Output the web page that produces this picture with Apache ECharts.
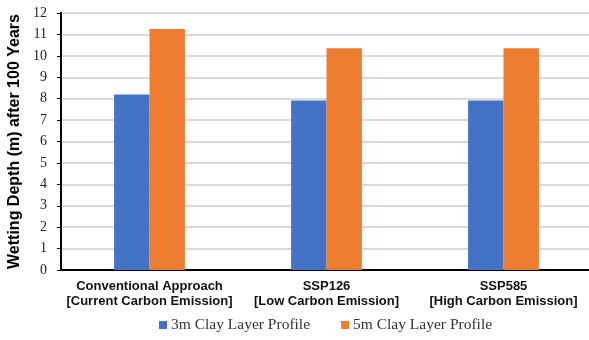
<!DOCTYPE html>
<html>
<head>
<meta charset="utf-8">
<script src="https://cdn.jsdelivr.net/npm/echarts@6/dist/echarts.min.js"></script>
<style>
  html, body { margin: 0; padding: 0; background: #fff; }
  #chart { width: 589px; height: 340px; }
</style>
</head>
<body>
<div id="chart"></div>
<script>
// Scenario categories (two-line labels)
const categories = [
  'Conventional Approach\n[Current Carbon Emission]',
  'SSP126\n[Low Carbon Emission]',
  'SSP585\n[High Carbon Emission]'
];
// Wetting depth (m) after 100 years for each clay layer profile
const clay3m = [8.2, 7.92, 7.92];
const clay5m = [11.25, 10.35, 10.35];
const seriesNames = ['3m Clay Layer Profile', '5m Clay Layer Profile'];
const yTicks = { min: 0, max: 12, interval: 1 };

const chart = echarts.init(document.getElementById('chart'));
chart.setOption({
  animation: false,
  backgroundColor: '#fff',
  grid: {
    left: 61, top: 13, bottom: 70, width: 531,
    outerBoundsMode: 'none',
    containLabel: false,
    show: true, borderColor: '#000', borderWidth: 2, backgroundColor: 'transparent'
  },
  legend: {
    top: 317,
    left: 159,
    padding: 0,
    itemWidth: 8, itemHeight: 8, itemGap: 31,
    icon: 'rect',
    textStyle: { fontFamily: 'Liberation Serif', fontSize: 15.5, color: '#333', padding: [0, 0, 0, -1] },
    data: seriesNames
  },
  xAxis: {
    type: 'category',
    data: categories,
    axisLine: { lineStyle: { color: '#000', width: 2 } },
    axisTick: { show: false },
    axisLabel: {
      fontFamily: 'Liberation Sans', fontWeight: 'bold', fontSize: 13,
      color: '#111', lineHeight: 15, margin: 9, interval: 0
    }
  },
  yAxis: {
    type: 'value',
    min: yTicks.min, max: yTicks.max, interval: yTicks.interval,
    name: 'Wetting Depth (m) after 100 Years',
    nameLocation: 'middle',
    nameGap: 35,
    nameTextStyle: { fontFamily: 'Liberation Sans', fontWeight: 'bold', fontSize: 16, color: '#000' },
    axisLine: { show: true, lineStyle: { color: '#000', width: 2 } },
    axisTick: { show: true, length: 4, lineStyle: { color: '#000', width: 1 } },
    axisLabel: { fontFamily: 'Liberation Serif', fontSize: 14, color: '#222', margin: 14 },
    splitLine: { lineStyle: { color: '#d9d9d9', width: 2 } }
  },
  series: [
    {
      name: seriesNames[0], type: 'bar', data: clay3m,
      barGap: '0%', barCategoryGap: '60%',
      itemStyle: { color: '#4472c4' }
    },
    {
      name: seriesNames[1], type: 'bar', data: clay5m,
      barGap: '0%', barCategoryGap: '60%',
      itemStyle: { color: '#ed7d31' }
    }
  ]
});
</script>
</body>
</html>
